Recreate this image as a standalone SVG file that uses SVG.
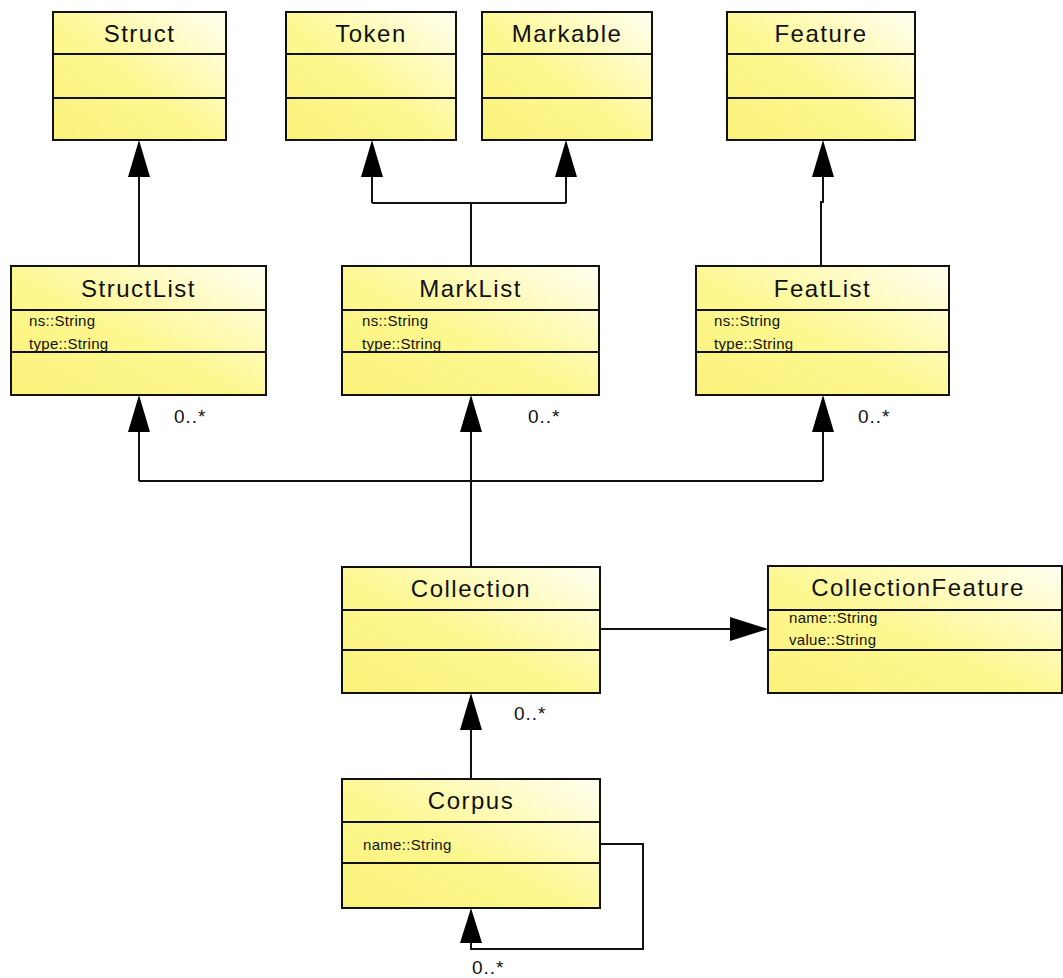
<svg xmlns="http://www.w3.org/2000/svg" width="1063" height="978" viewBox="0 0 1063 978">
<defs>
<linearGradient id="fill" x1="0" y1="1" x2="1" y2="0">
<stop offset="0" stop-color="#FBF27A"/>
<stop offset="0.45" stop-color="#FDF78F"/>
<stop offset="1" stop-color="#FFFFF2"/>
</linearGradient>
</defs>
<style>
.box{fill:url(#fill);stroke:#111;stroke-width:2}
.div{stroke:#111;stroke-width:2;fill:none}
.title{font-family:"Liberation Sans",Arial,sans-serif;font-size:24px;letter-spacing:1.5px;fill:#111;text-anchor:middle}
.attr{font-family:"Liberation Sans",Arial,sans-serif;font-size:15px;letter-spacing:0.3px;fill:#111}
.mult{font-family:"Liberation Sans",Arial,sans-serif;font-size:19px;letter-spacing:1px;fill:#111}
.line{stroke:#111;stroke-width:2;fill:none}
.head{fill:#000;stroke:none}
</style>
<rect width="1063" height="978" fill="#fff"/>

<g id="connectors">
<path class="line" d="M139 266 V176"/>
<polygon class="head" points="139,140 128,177 150,177"/>
<path class="line" d="M471 266 V203 M372 203 H566 M372 203 V176 M566 203 V176"/>
<polygon class="head" points="372,140 361,177 383,177"/>
<polygon class="head" points="566,140 555,177 577,177"/>
<path class="line" d="M821 266 V202 H823 V176"/>
<polygon class="head" points="823,140 812,177 834,177"/>
<path class="line" d="M139 481 H823 M139 481 V431 M823 481 V431 M471 567 V431"/>
<polygon class="head" points="139,395 128,432 150,432"/>
<polygon class="head" points="471,395 460,432 482,432"/>
<polygon class="head" points="823,395 812,432 834,432"/>
<path class="line" d="M600 629 H731"/>
<polygon class="head" points="768,629 730,617 730,641"/>
<path class="line" d="M471 779 V729"/>
<polygon class="head" points="471,693 460,730 482,730"/>
<path class="line" d="M600 844 H643 V949 H471 V942"/>
<polygon class="head" points="471,908 460,943 482,943"/>
<text class="mult" x="174" y="423">0..*</text>
<text class="mult" x="528" y="423">0..*</text>
<text class="mult" x="858" y="423">0..*</text>
<text class="mult" x="514" y="720">0..*</text>
<text class="mult" x="472" y="974">0..*</text>
</g>

<g id="Struct">
<rect class="box" x="53" y="12" width="173" height="128"/>
<path class="div" d="M53 54 H226 M53 98 H226"/>
<text class="title" x="139.5" y="42">Struct</text>
</g>
<g id="Token">
<rect class="box" x="286" y="12" width="170" height="128"/>
<path class="div" d="M286 54 H456 M286 98 H456"/>
<text class="title" x="371" y="42">Token</text>
</g>
<g id="Markable">
<rect class="box" x="482" y="12" width="170" height="128"/>
<path class="div" d="M482 54 H652 M482 98 H652"/>
<text class="title" x="567" y="42">Markable</text>
</g>
<g id="Feature">
<rect class="box" x="727" y="12" width="188" height="128"/>
<path class="div" d="M727 54 H915 M727 98 H915"/>
<text class="title" x="821" y="42">Feature</text>
</g>

<g id="StructList">
<rect class="box" x="11" y="266" width="255" height="129"/>
<path class="div" d="M11 310 H266 M11 352 H266"/>
<text class="title" x="138.5" y="297">StructList</text>
<text class="attr" x="29" y="326">ns::String</text>
<text class="attr" x="29" y="349">type::String</text>
</g>
<g id="MarkList">
<rect class="box" x="342" y="266" width="257" height="129"/>
<path class="div" d="M342 310 H599 M342 352 H599"/>
<text class="title" x="470.5" y="297">MarkList</text>
<text class="attr" x="362" y="326">ns::String</text>
<text class="attr" x="362" y="349">type::String</text>
</g>
<g id="FeatList">
<rect class="box" x="696" y="266" width="253" height="129"/>
<path class="div" d="M696 310 H949 M696 352 H949"/>
<text class="title" x="822.5" y="297">FeatList</text>
<text class="attr" x="714" y="326">ns::String</text>
<text class="attr" x="714" y="349">type::String</text>
</g>

<g id="Collection">
<rect class="box" x="342" y="567" width="258" height="126"/>
<path class="div" d="M342 610 H600 M342 650 H600"/>
<text class="title" x="471" y="597">Collection</text>
</g>
<g id="CollectionFeature">
<rect class="box" x="768" y="566" width="294" height="127"/>
<path class="div" d="M768 610 H1062 M768 650 H1062"/>
<text class="title" x="918" y="596">CollectionFeature</text>
<text class="attr" x="789" y="623">name::String</text>
<text class="attr" x="789" y="645">value::String</text>
</g>
<g id="Corpus">
<rect class="box" x="342" y="779" width="258" height="129"/>
<path class="div" d="M342 822 H600 M342 863 H600"/>
<text class="title" x="471" y="809">Corpus</text>
<text class="attr" x="363" y="850">name::String</text>
</g>
</svg>
